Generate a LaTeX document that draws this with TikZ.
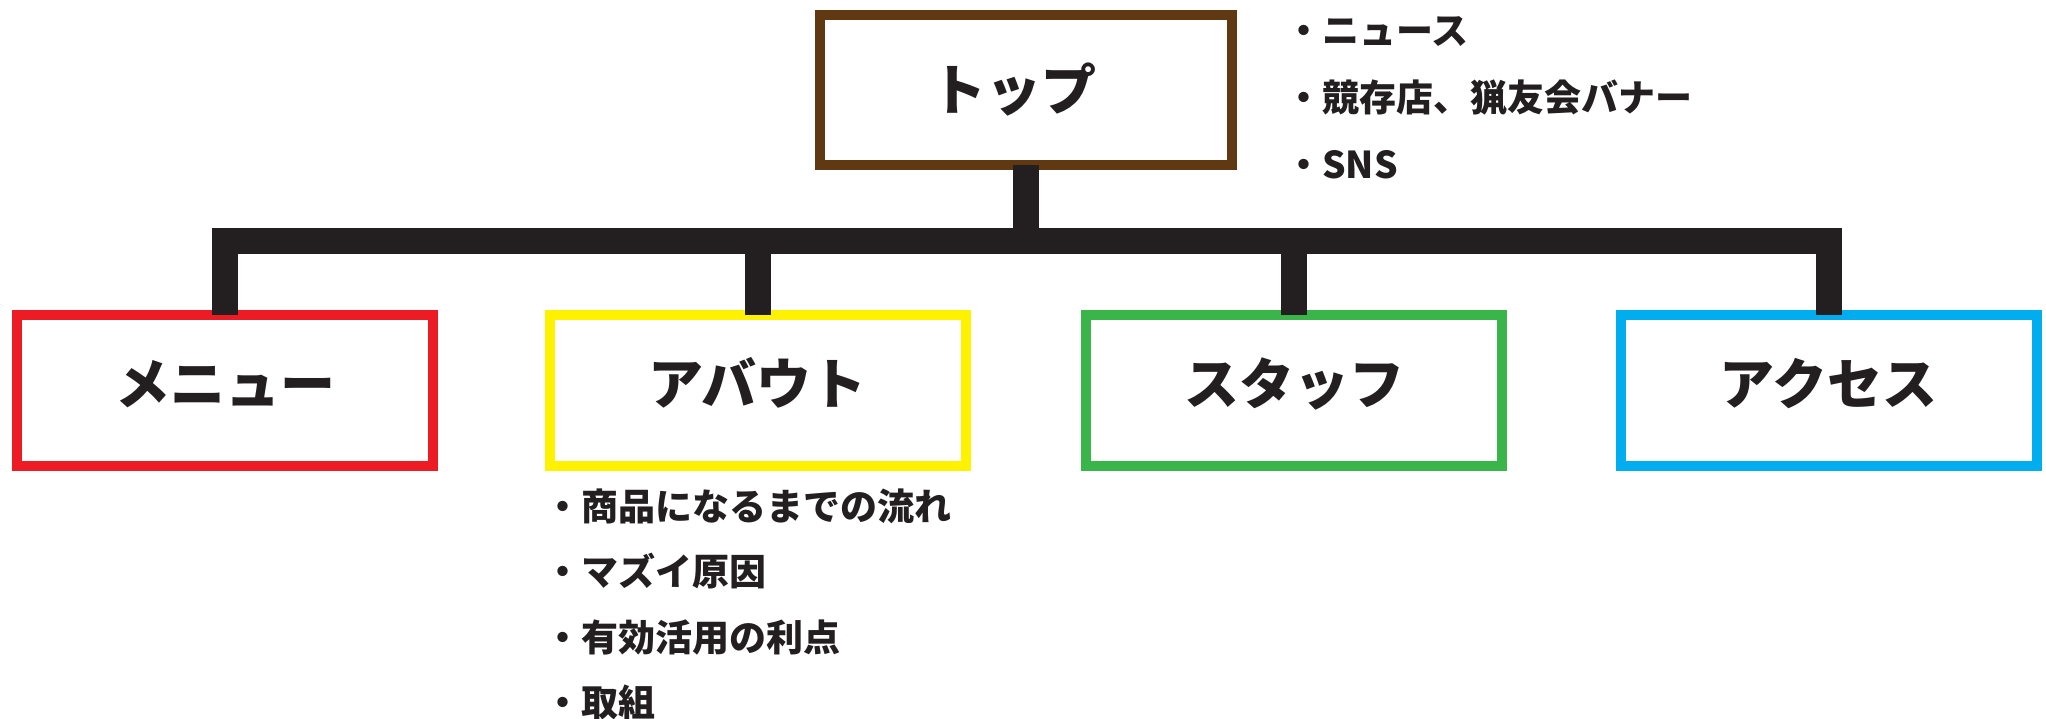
\documentclass[tikz,border=0pt]{standalone}
\usepackage{fontspec}
\setmainfont{Noto Sans CJK JP}
\definecolor{ink}{HTML}{231F20}
\definecolor{brownc}{HTML}{603913}
\definecolor{redc}{HTML}{ED1C24}
\definecolor{yellowc}{HTML}{FFF200}
\definecolor{greenc}{HTML}{39B54A}
\definecolor{bluec}{HTML}{00AEEF}
\newcommand{\lbl}[2]{\raisebox{#1}[0pt][0pt]{#2}}
\begin{document}
\begin{tikzpicture}[x=1pt,y=-1pt,
  box/.style={draw, line width=10pt, fill=white, minimum width=416pt, minimum height=150pt,
    inner sep=0pt, outer sep=0pt, font=\fontsize{55}{60}\selectfont\bfseries, text=ink},
  conn/.style={draw=ink, line width=26pt, line join=miter},
  item/.style={anchor=west, inner sep=0pt, font=\fontsize{37}{44}\selectfont\bfseries, text=ink}]
\useasboundingbox (0,0) rectangle (2046,719);
\node[box, draw=brownc, minimum width=412pt] (top) at (1026,90) {\lbl{-21pt}{\hspace*{-24pt}トップ}};
\node[box, draw=redc] (menu) at (225,390.5) {\lbl{-14pt}{メニュー}};
\node[box, draw=yellowc] (about) at (757.5,390.5) {\lbl{-14pt}{アバウト}};
\node[box, draw=greenc] (staff) at (1294,390.5) {\lbl{-14pt}{スタッフ}};
\node[box, draw=bluec] (access) at (1828.5,390.5) {\lbl{-14pt}{アクセス}};
\coordinate (bus) at (1027,241);
\draw[conn] (top.south) -- (top.south |- bus);
\draw[conn] (menu.north) -- (menu.north |- bus) -- (access.north |- bus) -- (access.north);
\draw[conn] (about.north) -- (about.north |- bus);
\draw[conn] (staff.north) -- (staff.north |- bus);
\node[item] (t1) at (1285,32) {・ニュース};
\node[item] (t2) at (1285,98) {・競存店、猟友会バナー};
\node[item] (t3) at (1285,165) {・SNS};
\node[item] (a1) at (544,506) {・商品になるまでの流れ};
\node[item] (a2) at (544,571) {・マズイ原因};
\node[item] (a3) at (544,638) {・有効活用の利点};
\node[item] (a4) at (544,702) {・取組};
\end{tikzpicture}
\end{document}
